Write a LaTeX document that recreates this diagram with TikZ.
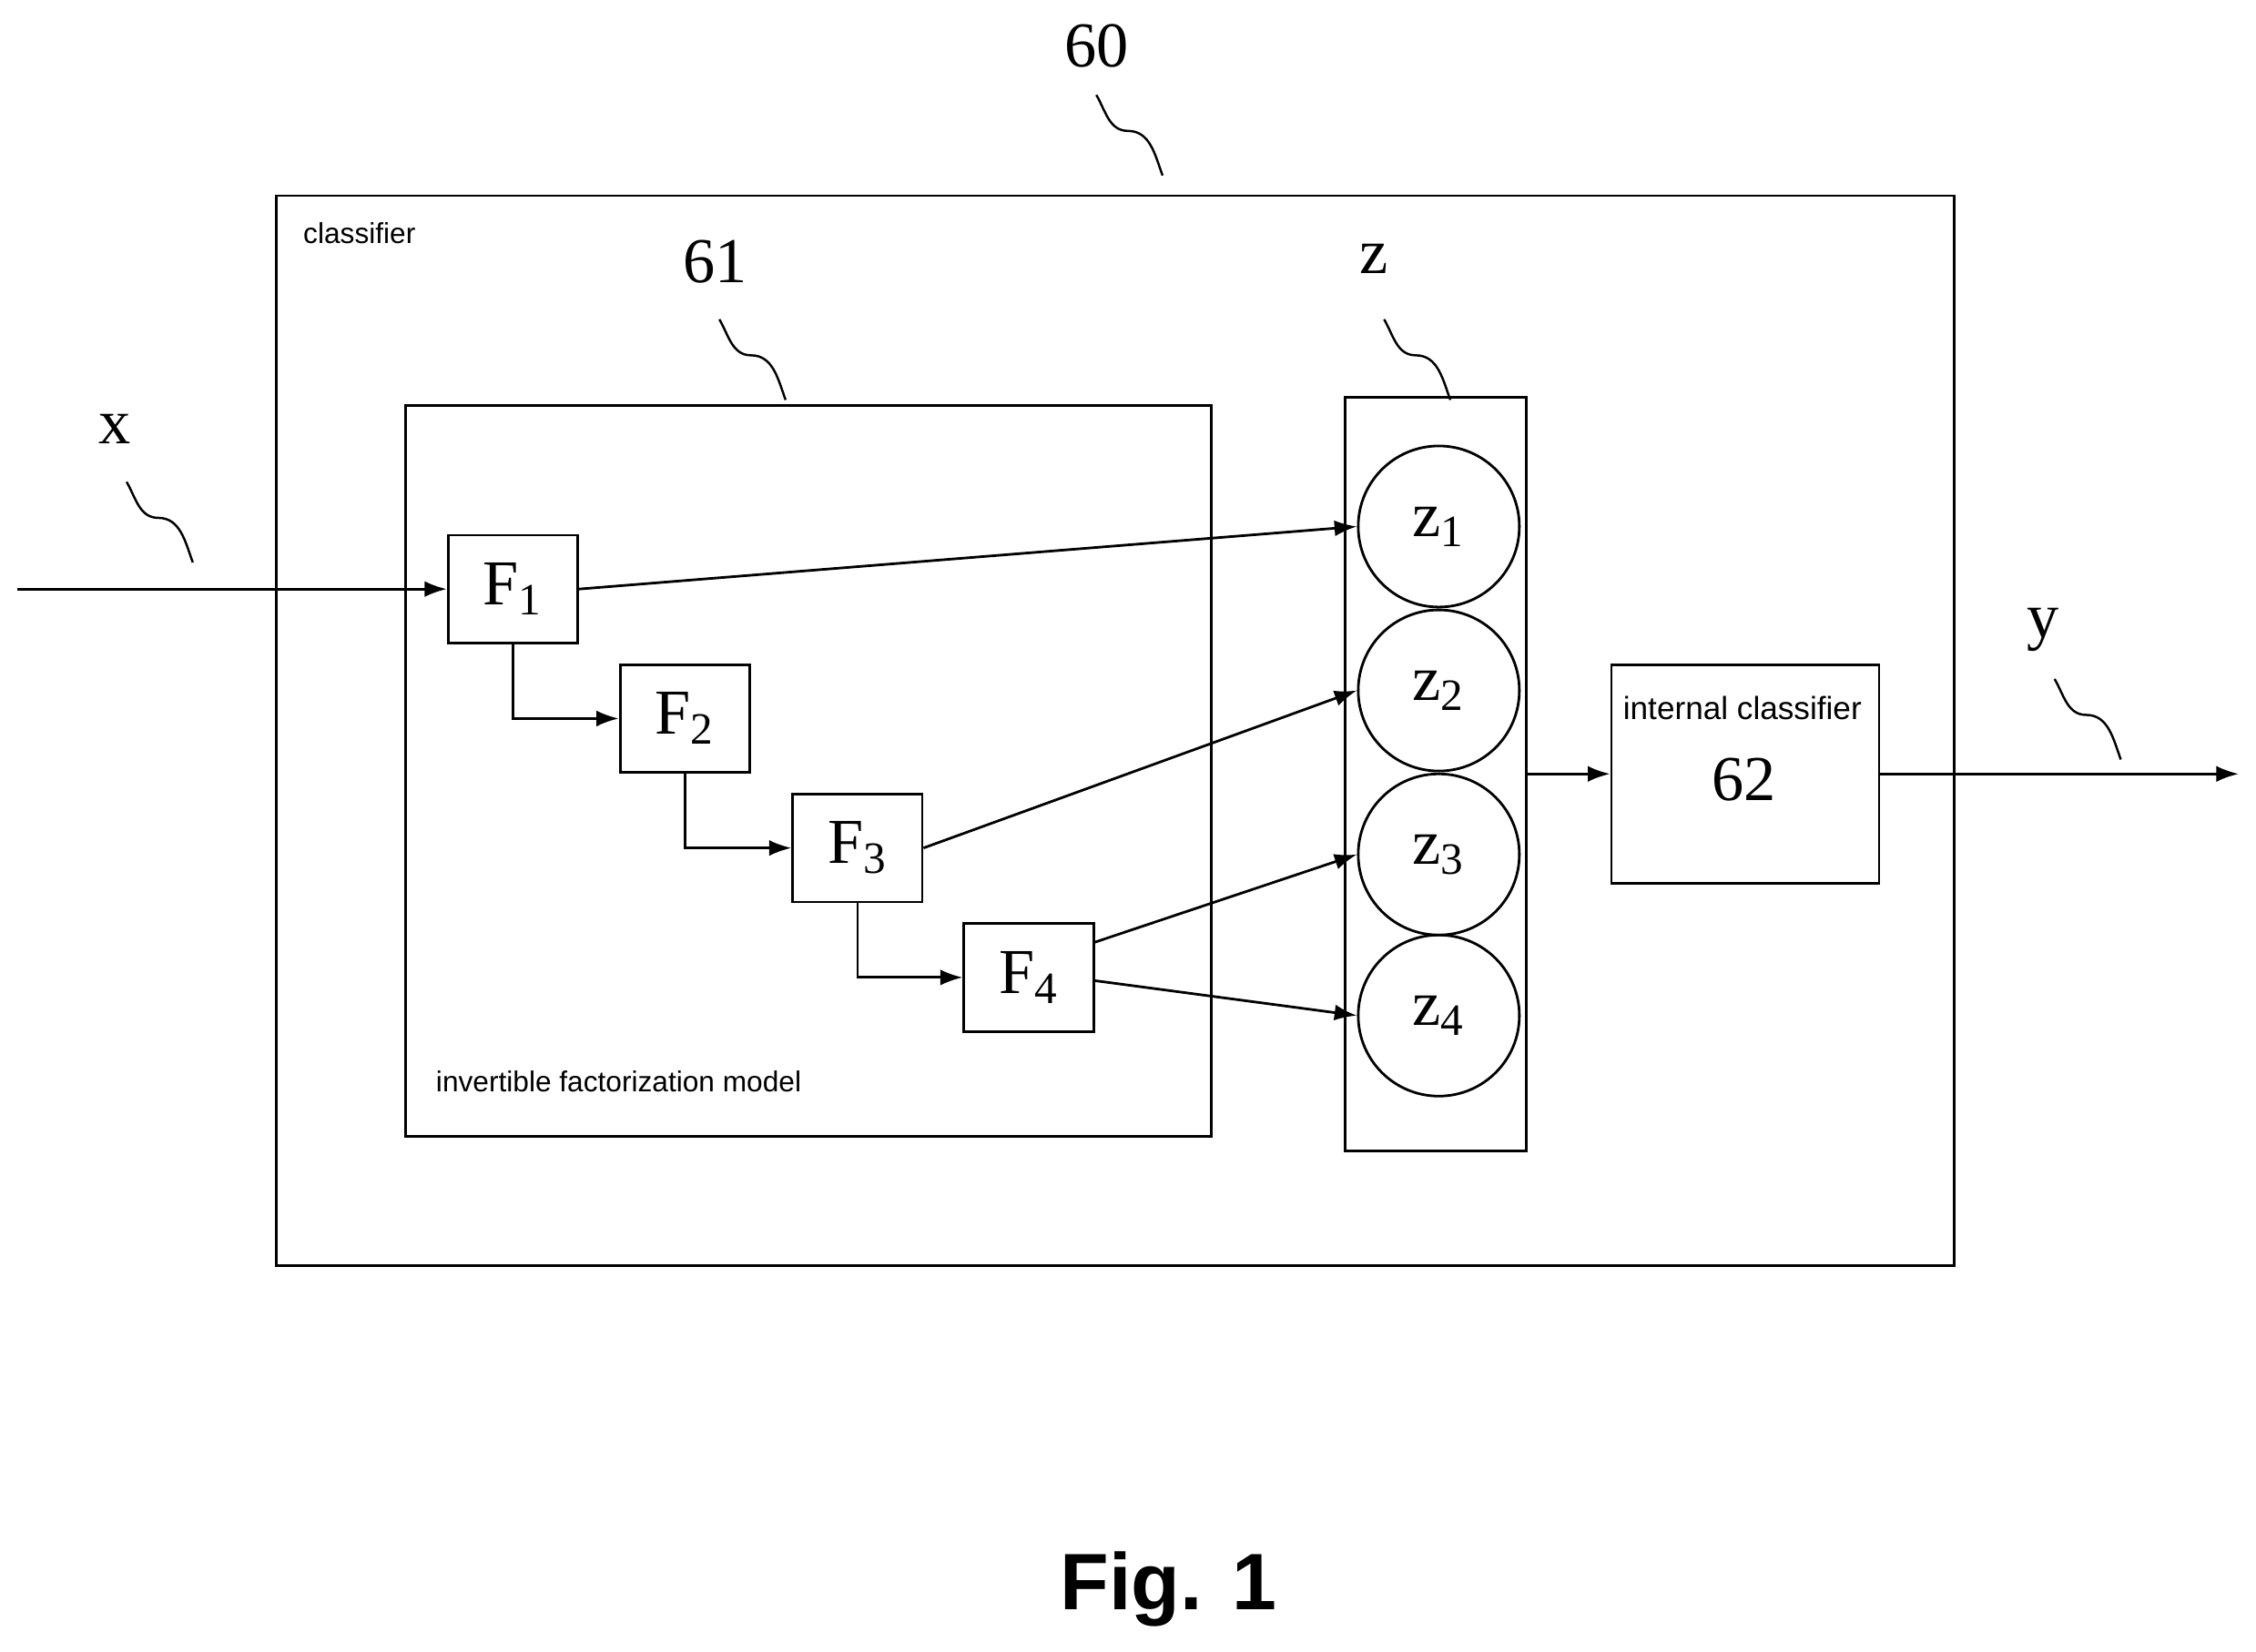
\documentclass[tikz,border=0pt]{standalone}
\usepackage{fontspec}
\setmainfont{Liberation Serif}
\setsansfont{Liberation Sans}
\usetikzlibrary{arrows.meta, positioning, calc}

\def\u{0.0158cm}
\tikzset{
    box/.style={draw, line width=0.8pt, inner sep=0pt},
    fblock/.style={box, minimum width={90*\u}, minimum height={75*\u}, font=\fontsize{20}{20}\selectfont},
    zcirc/.style={draw, line width=0.8pt, circle, minimum size={112*\u}, inner sep=0pt, font=\fontsize{20}{20}\selectfont},
    ref/.style={font=\fontsize{20}{20}\selectfont},
    small/.style={font=\sffamily\fontsize{9}{9}\selectfont},
    flow/.style={line width=0.8pt, -{Latex[length=7pt,width=5pt]}},
    squig/.style={line width=0.7pt}
}
\newcommand{\wiggle}[2]{% start point of the leader wave
    \draw[squig] (#1,#2) to[out=-60,in=180] (#1+22,#2+25) to[out=0,in=110] (#1+46,#2+56);}

\begin{document}
\begin{tikzpicture}[x=\u, y=-\u]
    \useasboundingbox (0,0) rectangle (1568,1148);

    % outer classifier
    \draw[box] (192,136) rectangle (1358,880);
    \node[small, anchor=west] (lcls) at (203,162) {classifier};
    \node[ref] (n60) at (762,32) {60};
    \wiggle{762}{66}

    % factorization model
    \draw[box] (282,282) rectangle (842,790);
    \node[small] (lifm) at (430,752) {invertible factorization model};
    \node[ref] (n61) at (497,182) {61};
    \wiggle{500}{222}

    % blocks
    \node[fblock] (F1) at (356.5,409.5) {F\textsubscript{1}};
    \node[fblock] (F2) at (476,499.5) {F\textsubscript{2}};
    \node[fblock] (F3) at (596,589.5) {F\textsubscript{3}};
    \node[fblock] (F4) at (715,679.5) {F\textsubscript{4}};

    % latent vector z
    \node[box, minimum width={126*\u}, minimum height={524*\u}] (zbox) at (998,538) {};
    \node[ref] (lz) at (955,180) {z};
    \wiggle{962}{222}
    \foreach \i/\yy in {1/366,2/480,3/594,4/706}
        \node[zcirc] (z\i) at (1000,\yy) {z\textsubscript{\i}};

    % internal classifier
    \node[box, minimum width={186*\u}, minimum height={152*\u}] (ic) at (1213,538) {};
    \node[small, font=\sffamily\fontsize{10}{10}\selectfont] (lic) at (1211,492) {internal classifier};
    \node[ref] (n62) at (1212,542) {62};

    % input / output
    \coordinate (xin) at (12,409.5);
    \coordinate (yout) at (1556,538);
    \node[ref] (lx) at (80,298) {x};
    \wiggle{88}{335}
    \node[ref] (ly) at (1420,438) {y};
    \wiggle{1428}{472}

    % connectors
    \draw[flow] (xin) -- (F1.west);
    \draw[flow] (F1.south) |- (F2.west);
    \draw[flow] (F2.south) |- (F3.west);
    \draw[flow] (F3.south) |- (F4.west);
    \draw[flow] (F1.east) -- (z1.west);
    \draw[flow] (F3.east) -- (z2.west);
    \draw[flow] ([yshift=11pt]F4.east) -- (z3.west);
    \draw[flow] ([yshift=-1pt]F4.east) -- (z4.west);
    \draw[flow] (zbox.east) -- (ic.west);
    \draw[flow] (ic.east) -- (yout);

    \node[font=\sffamily\bfseries\fontsize{25}{25}\selectfont] (fig) at (812,1105) {Fig. 1};
\end{tikzpicture}
\end{document}
